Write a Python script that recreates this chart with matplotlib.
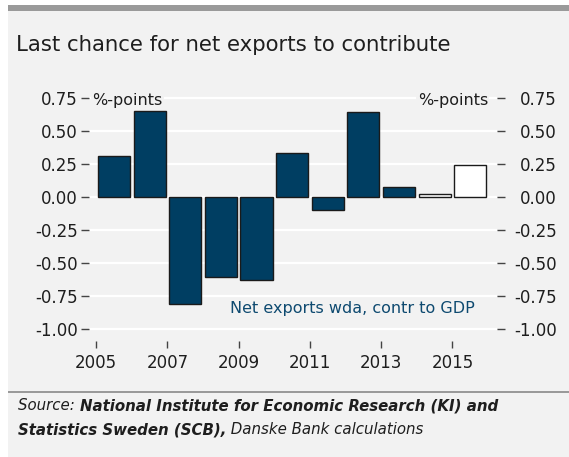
import matplotlib.pyplot as plt
from matplotlib.patches import Rectangle

years = [2005, 2006, 2007, 2008, 2009, 2010, 2011, 2012, 2013, 2014, 2015]
net_exports = [0.31, 0.65, -0.81, -0.61, -0.63, 0.33, -0.10, 0.64, 0.07, 0.02, 0.24]
forecast = [False] * 9 + [True, True]
yticks = [0.75, 0.50, 0.25, 0.00, -0.25, -0.50, -0.75, -1.00]
xticks = [2005, 2007, 2009, 2011, 2013, 2015]

BG = "#f2f2f2"
NAVY = "#003e62"
TXT = "#1e1e1e"

plt.rcParams["font.family"] = "DejaVu Sans"

fig = plt.figure(figsize=(5.69, 4.57), dpi=100, facecolor="white")
W, H = 569, 457

# panel background, top bar and footer rule
fig.patches.append(Rectangle((8 / W, 0), 1 - 8 / W, 1 - 5 / H, transform=fig.transFigure,
                             facecolor=BG, edgecolor="none", zorder=-2))
fig.patches.append(Rectangle((8 / W, 1 - 11 / H), 1 - 8 / W, 6 / H, transform=fig.transFigure,
                             facecolor="#9a9a9a", edgecolor="none", zorder=-1))
fig.patches.append(Rectangle((8 / W, 1 - 393 / H), 1 - 8 / W, 2 / H, transform=fig.transFigure,
                             facecolor="#9a9a9a", edgecolor="none", zorder=-1))

fig.text(16 / W, 1 - 51 / H, "Last chance for net exports to contribute",
         fontsize=15.3, color=TXT, va="baseline", ha="left")

ax = fig.add_axes([89 / W, 1 - 341 / H, 408 / W, 253 / H])
ax.set_facecolor(BG)
for s in ax.spines.values():
    s.set_visible(False)

colors = ["white" if f else NAVY for f in forecast]
ax.bar([y + 0.05 for y in years], net_exports, width=0.9, align="edge",
       color=colors, edgecolor="#1a1a1a", linewidth=1.0, zorder=3)

ax.set_xlim(2004.80, 2016.25)
ax.set_ylim(-1.093, 0.823)
ax.set_yticks(yticks)
ax.set_yticklabels([f"{v:.2f}" for v in yticks])
ax.set_xticks(xticks)
ax.set_xticklabels([str(x) for x in xticks])
ax.grid(axis="y", color="white", linewidth=1.6, zorder=1)
ax.grid(axis="x", visible=False)
ax.set_axisbelow(True)

ax.tick_params(axis="y", direction="out", length=6, width=1, color="#444444",
               labelsize=12, labelcolor=TXT, pad=2)
ax.tick_params(axis="x", direction="out", length=5, width=1, color="#444444",
               labelsize=12, labelcolor=TXT, pad=4)

# right-hand scale, labels right-aligned
ax2 = ax.twinx()
for s in ax2.spines.values():
    s.set_visible(False)
ax2.set_ylim(ax.get_ylim())
ax2.set_yticks(yticks)
ax2.set_yticklabels([f"{v:.2f}" for v in yticks], ha="right")
ax2.tick_params(axis="y", direction="out", length=6, width=1, color="#444444",
                labelsize=12, labelcolor=TXT, pad=37)

ax2.text(92 / W, 1 - 100 / H, "%-points", transform=fig.transFigure, fontsize=11.5,
         color=TXT, va="center", ha="left", zorder=5,
         bbox=dict(facecolor=BG, edgecolor="none", pad=1))
ax2.text(488 / W, 1 - 100 / H, "%-points", transform=fig.transFigure, fontsize=11.5,
         color=TXT, va="center", ha="right", zorder=5,
         bbox=dict(facecolor=BG, edgecolor="none", pad=1))
ax2.text(475 / W, 1 - 309 / H, "Net exports wda, contr to GDP", transform=fig.transFigure,
         fontsize=11.5, color="#0e4a70", va="center", ha="right", zorder=5)

# footer with mixed italic / bold italic pieces
fig.canvas.draw()
renderer = fig.canvas.get_renderer()


def footer_line(pieces, x0, y):
    x = x0
    for txt, weight in pieces:
        t = fig.text(x / W, 1 - y / H, txt, fontsize=10.8, style="italic",
                     weight=weight, color=TXT, va="center", ha="left")
        bb = t.get_window_extent(renderer)
        x = bb.x1


footer_line([("Source: ", "normal"),
             ("National Institute for Economic Research (KI) and", "bold")], 18, 406)
footer_line([("Statistics Sweden (SCB),", "bold"),
             (" Danske Bank calculations", "normal")], 18, 430)

fig.savefig("out.png", dpi=100, facecolor="white")
